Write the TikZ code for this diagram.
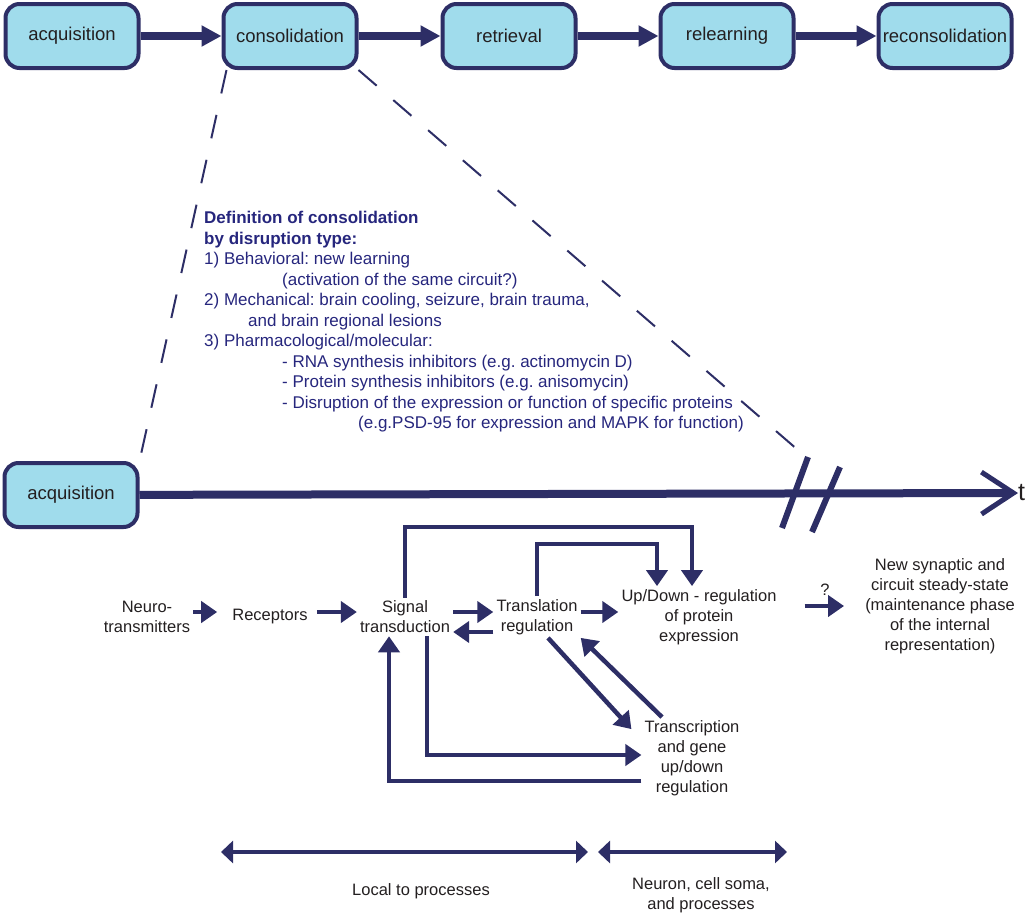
\documentclass[tikz,border=0pt]{standalone}
\usepackage{fontspec}
\setmainfont{Liberation Sans}
\usetikzlibrary{calc,arrows.meta}
\frenchspacing
\definecolor{navy}{RGB}{45,46,102}
\definecolor{boxblue}{RGB}{160,220,236}
\definecolor{defblue}{RGB}{38,38,125}
\definecolor{ink}{RGB}{35,31,32}
\tikzset{
  stage/.style={draw=navy,line width=4pt,fill=boxblue,rounded corners=14pt,
    minimum width=133pt,minimum height=64pt,inner sep=0pt,text=ink,
    font=\fontsize{18.5}{22}\selectfont},
  bigarrow/.style={navy,line width=8pt,-{Triangle[length=20pt,width=20pt]}},
  flowarrow/.style={navy,line width=4.5pt,-{Triangle[length=16pt,width=21pt]}},
  extent/.style={navy,line width=4pt,{Triangle[length=12pt,width=22pt]}-{Triangle[length=12pt,width=22pt]}},
  dashline/.style={navy,line width=2pt,dash pattern=on 24pt off 22pt},
  brkline/.style={navy,line width=6pt},
  txt/.style={text=ink,align=center,inner sep=3pt,font=\fontsize{16.5}{20}\selectfont},
  deftxt/.style={text=defblue,align=left,inner sep=0pt,font=\fontsize{17}{20.5}\selectfont}
}
\begin{document}
\begin{tikzpicture}[x=1pt,y=-1pt]
        \useasboundingbox (0,0) rectangle (1030,918);

        % memory phases
        \node[stage] (acq) at (72,36) {acquisition};
        \node[stage] (cons) at (290,36) {consolidation};
        \node[stage] (retr) at (509,36) {retrieval};
        \node[stage] (relearn) at (727,36) {relearning};
        \node[stage] (recons) at (945,36) {reconsolidation};

        \draw[bigarrow] (acq) -- (cons);
        \draw[bigarrow] (cons) -- (retr);
        \draw[bigarrow] (retr) -- (relearn);
        \draw[bigarrow] (relearn) -- (recons);

        % time axis
        \node[stage] (acq2) at (71,495) {acquisition};
        \node[text=ink,anchor=west,inner sep=0pt,font=\fontsize{25}{28}\selectfont] (t) at (1018,493) {t};
        \draw[navy,line width=8pt,-{Straight Barb[length=32pt,width=42pt,line width=5pt]}] (acq2) -- (t.west);
        \draw[brkline] (782,528) -- (808,457);
        \draw[brkline] (812,532) -- (840,467);
        \coordinate (brk) at (806,457);

        \draw[dashline] ([xshift=5pt]cons.south west) -- (acq2.north east);
        \draw[dashline] (cons.south east) -- (brk);

        \node[deftxt,anchor=north west] (def) at (204,211) {%
          \textbf{Definition of consolidation}\\
          \textbf{by disruption type:}\\
          1) Behavioral: new learning\\
          \hspace*{78pt}(activation of the same circuit?)\\
          2) Mechanical: brain cooling, seizure, brain trauma,\\
          \hspace*{44pt}and brain regional lesions\\
          3) Pharmacological/molecular:\\
          \hspace*{78pt}- RNA synthesis inhibitors (e.g. actinomycin D)\\
          \hspace*{78pt}- Protein synthesis inhibitors (e.g. anisomycin)\\
          \hspace*{78pt}- Disruption of the expression or function of specific proteins\\
          \hspace*{154pt}(e.g.PSD-95 for expression and MAPK for function)};

        % molecular cascade
        \node[txt] (neuro) at (147,617) {Neuro-\\transmitters};
        \node[txt] (rec) at (270,617) {Receptors};
        \node[txt] (sig) at (405,617) {Signal\\transduction};
        \node[txt] (trl) at (537,617) {Translation\\regulation};
        \node[txt] (up) at (699,617) {Up/Down - regulation\\of protein\\expression};
        \node[txt] (new) at (940,606) {New synaptic and\\circuit steady-state\\(maintenance phase\\of the internal\\representation)};
        \node[txt] (trc) at (692,758) {Transcription\\and gene\\up/down\\regulation};

        \draw[flowarrow,shorten >=12pt] ([yshift=5pt]neuro.east) -- ([yshift=5pt]rec.west);
        \draw[flowarrow,shorten <=6pt] ([yshift=5pt]rec.east) -- ([yshift=5pt]sig.west);
        \draw[flowarrow] ([yshift=5pt]sig.east) -- ([yshift=5pt]trl.west);
        \draw[flowarrow] ([yshift=-15pt]trl.west) -- ([yshift=-15pt]sig.east);
        \draw[flowarrow] ([yshift=5pt]trl.east) -- ([yshift=5pt]up.west);
        \draw[flowarrow,shorten <=25pt,shorten >=18pt] (up.east |- new.west) -- (new.west)
          node[pos=0.55,above=8pt,txt,inner sep=0pt] {?};

        \draw[flowarrow] (sig.north) -- (sig.north |- 0,527) -| ([xshift=-7pt]up.north);
        \draw[flowarrow] (trl.north) -- (trl.north |- 0,544) -| ([xshift=-42pt]up.north);
        \draw[flowarrow] ([xshift=22pt]sig.south) |- ([yshift=3pt]trc.west);
        \draw[flowarrow] ([yshift=-23pt]trc.west) -| ([xshift=-16pt]sig.south);
        \draw[flowarrow] ([xshift=11pt]trl.south) -- ([xshift=-10pt,yshift=-12pt]trc.north west);
        \draw[flowarrow] ([xshift=-30pt]trc.north) -- (trl.south east);

        % scale of the processes
        \coordinate (la) at (221,852);
        \coordinate (lb) at (588,852);
        \coordinate (na) at (598,852);
        \coordinate (nb) at (787,852);
        \draw[extent] (la) -- (lb);
        \draw[extent] (na) -- (nb);
        \node[txt] (local) at (421,891) {Local to processes};
        \node[txt] (neuron) at (701,895) {Neuron, cell soma,\\and processes};
      \end{tikzpicture}
\end{document}
